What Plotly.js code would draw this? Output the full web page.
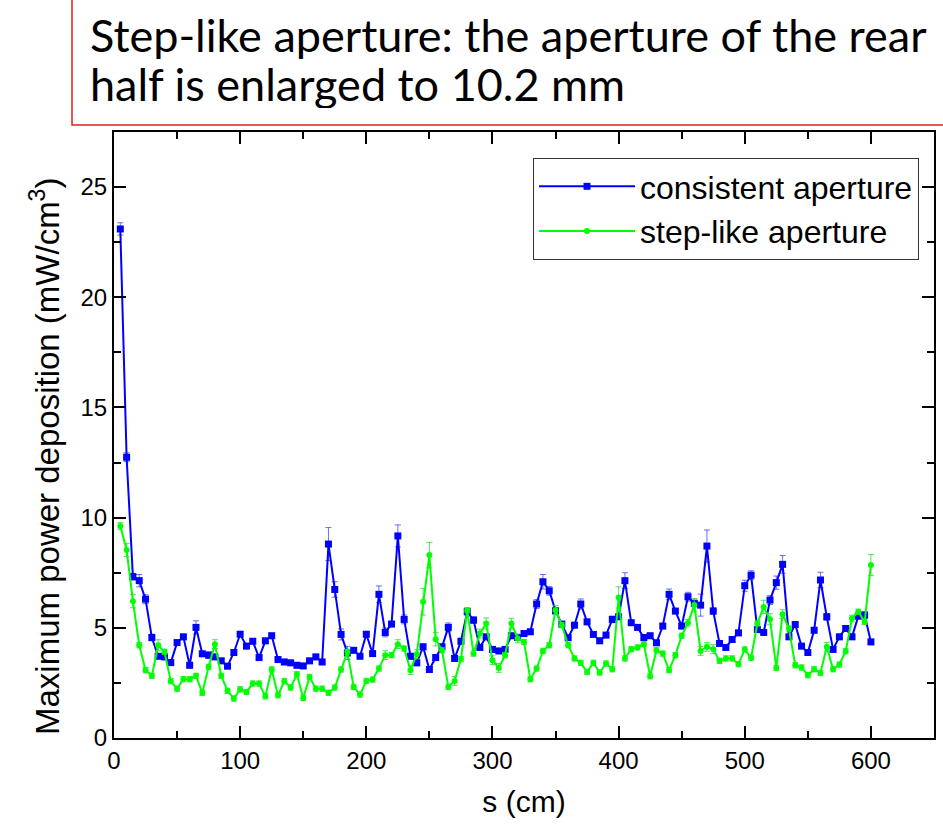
<!DOCTYPE html>
<html>
<head>
<meta charset="utf-8">
<script src="https://cdn.plot.ly/plotly-3.0.1.min.js"></script>
<style>
  html, body { margin: 0; padding: 0; background: #ffffff; }
  #chart { width: 943px; height: 832px; }
</style>
</head>
<body>
<div id="chart"></div>
<script>
// Position along the structure, cm
const s = [
  5, 10, 15, 20, 25, 30, 35, 40, 45, 50,
  55, 60, 65, 70, 75, 80, 85, 90, 95, 100,
  105, 110, 115, 120, 125, 130, 135, 140, 145, 150,
  155, 160, 165, 170, 175, 180, 185, 190, 195, 200,
  205, 210, 215, 220, 225, 230, 235, 240, 245, 250,
  255, 260, 265, 270, 275, 280, 285, 290, 295, 300,
  305, 310, 315, 320, 325, 330, 335, 340, 345, 350,
  355, 360, 365, 370, 375, 380, 385, 390, 395, 400,
  405, 410, 415, 420, 425, 430, 435, 440, 445, 450,
  455, 460, 465, 470, 475, 480, 485, 490, 495, 500,
  505, 510, 515, 520, 525, 530, 535, 540, 545, 550,
  555, 560, 565, 570, 575, 580, 585, 590, 595, 600
];

// Maximum power deposition, mW/cm^3 - consistent aperture
const consistent = [
  23.10, 12.74, 7.32, 7.14, 6.30, 4.56, 3.71, 3.68, 3.42, 4.33,
  4.59, 3.30, 5.02, 3.82, 3.76, 3.68, 3.50, 3.26, 3.88, 4.71,
  4.17, 4.39, 3.65, 4.41, 4.64, 3.56, 3.45, 3.41, 3.30, 3.27,
  3.50, 3.68, 3.45, 8.80, 6.74, 4.70, 3.86, 3.98, 3.71, 4.71,
  3.83, 6.52, 4.79, 5.17, 9.17, 5.38, 3.71, 3.41, 4.14, 3.11,
  3.65, 4.14, 5.02, 3.61, 4.39, 5.73, 5.35, 4.11, 4.59, 4.02,
  3.95, 4.02, 4.64, 4.56, 4.74, 4.82, 6.08, 7.09, 6.68, 5.77,
  5.17, 4.55, 5.12, 6.08, 5.27, 4.70, 4.41, 4.67, 5.38, 5.50,
  7.14, 5.23, 5.02, 4.56, 4.64, 4.32, 5.08, 6.52, 5.76, 5.08,
  6.41, 6.11, 6.03, 8.71, 5.76, 4.29, 4.11, 4.47, 4.77, 6.91,
  7.39, 4.92, 4.79, 6.26, 7.05, 7.88, 4.59, 5.15, 4.17, 3.88,
  4.89, 7.17, 5.50, 4.02, 4.59, 4.97, 4.59, 5.53, 5.58, 4.36
];
const consistentErr = [
  0.28, 0.20, 0.15, 0.28, 0.20, 0.15, 0.12, 0.12, 0.12, 0.12,
  0.12, 0.12, 0.30, 0.12, 0.15, 0.12, 0.12, 0.12, 0.12, 0.12,
  0.12, 0.12, 0.12, 0.12, 0.12, 0.12, 0.12, 0.12, 0.12, 0.12,
  0.12, 0.12, 0.12, 0.75, 0.35, 0.25, 0.30, 0.12, 0.12, 0.12,
  0.12, 0.38, 0.20, 0.12, 0.50, 0.20, 0.12, 0.12, 0.12, 0.12,
  0.12, 0.12, 0.20, 0.12, 0.12, 0.15, 0.15, 0.12, 0.12, 0.12,
  0.12, 0.12, 0.12, 0.12, 0.12, 0.12, 0.20, 0.33, 0.20, 0.12,
  0.12, 0.12, 0.12, 0.23, 0.12, 0.12, 0.12, 0.12, 0.15, 0.12,
  0.36, 0.12, 0.12, 0.12, 0.12, 0.12, 0.12, 0.24, 0.12, 0.12,
  0.20, 0.15, 0.50, 0.73, 0.15, 0.12, 0.12, 0.12, 0.12, 0.25,
  0.20, 0.12, 0.12, 0.20, 0.30, 0.40, 0.12, 0.12, 0.12, 0.12,
  0.12, 0.35, 0.15, 0.12, 0.12, 0.12, 0.12, 0.12, 0.15, 0.12
];

// Maximum power deposition, mW/cm^3 - step-like aperture
const stepLike = [
  9.62, 8.53, 6.21, 4.21, 3.08, 2.82, 4.21, 3.91, 2.58, 2.24,
  2.67, 2.67, 2.82, 2.05, 3.23, 4.26, 2.82, 2.14, 1.79, 2.21,
  2.09, 2.47, 2.47, 1.89, 3.11, 1.94, 2.58, 2.29, 2.89, 1.82,
  2.77, 2.24, 2.24, 2.05, 2.29, 3.11, 3.91, 2.32, 1.97, 2.59,
  2.65, 3.15, 3.76, 3.76, 4.26, 4.06, 3.08, 3.80, 6.18, 8.30,
  4.48, 3.98, 2.32, 2.59, 3.58, 5.80, 3.83, 4.74, 5.20, 3.53,
  3.18, 3.76, 5.20, 4.52, 4.36, 2.67, 3.15, 3.95, 4.21, 5.80,
  5.12, 4.21, 3.61, 3.41, 3.00, 3.41, 2.97, 3.38, 3.12, 6.38,
  3.61, 4.03, 4.11, 4.26, 2.80, 3.98, 3.83, 3.08, 3.76, 4.64,
  5.23, 6.03, 3.95, 4.14, 4.03, 3.50, 3.61, 3.61, 3.35, 4.02,
  3.64, 5.20, 5.95, 5.39, 3.18, 5.62, 4.97, 3.30, 3.20, 2.85,
  3.12, 2.95, 4.14, 3.12, 3.33, 3.94, 5.42, 5.73, 5.27, 7.85
];
const stepLikeErr = [
  0.15, 0.30, 0.30, 0.12, 0.12, 0.12, 0.25, 0.12, 0.12, 0.12,
  0.12, 0.12, 0.12, 0.12, 0.12, 0.20, 0.12, 0.12, 0.12, 0.12,
  0.12, 0.12, 0.12, 0.12, 0.12, 0.12, 0.12, 0.12, 0.12, 0.12,
  0.12, 0.12, 0.12, 0.12, 0.12, 0.12, 0.12, 0.12, 0.12, 0.12,
  0.12, 0.12, 0.20, 0.12, 0.20, 0.12, 0.20, 0.20, 0.60, 0.58,
  0.30, 0.12, 0.12, 0.20, 0.12, 0.12, 0.12, 0.20, 0.25, 0.20,
  0.20, 0.12, 0.23, 0.20, 0.12, 0.12, 0.12, 0.12, 0.12, 0.20,
  0.12, 0.12, 0.12, 0.12, 0.12, 0.12, 0.12, 0.12, 0.12, 0.48,
  0.12, 0.12, 0.12, 0.12, 0.12, 0.12, 0.12, 0.12, 0.12, 0.12,
  0.15, 0.30, 0.20, 0.20, 0.20, 0.12, 0.12, 0.12, 0.12, 0.12,
  0.12, 0.12, 0.30, 0.25, 0.12, 0.20, 0.12, 0.12, 0.12, 0.12,
  0.12, 0.12, 0.20, 0.12, 0.12, 0.12, 0.15, 0.12, 0.12, 0.48
];

const seriesNames = ['consistent aperture', 'step-like aperture'];
const headingLines = [
  'Step-like aperture: the aperture of the rear',
  'half is enlarged to 10.2 mm'
];

const FONT = '"Liberation Sans", Arial, sans-serif';
const HEAD_FONT = 'Lato, "Open Sans", sans-serif';
const BLUE = '#0000ff';
const GREEN = '#00ff00';

// plot-area geometry in pixels, used to place the heading and its frame
const PLOT_L = 114, PLOT_W = 820, PLOT_B = 738, PLOT_H = 606;
const px2x = px => (px - PLOT_L) / PLOT_W;
const px2y = py => (PLOT_B - py) / PLOT_H;

const traces = [
  {
    x: s, y: consistent, name: seriesNames[0],
    type: 'scatter', mode: 'lines+markers',
    line: { color: BLUE, width: 2 },
    marker: { color: BLUE, symbol: 'square', size: 7 },
    error_y: { type: 'data', array: consistentErr, visible: true,
               color: 'rgba(60,60,255,0.75)', thickness: 1, width: 3 }
  },
  {
    x: s, y: stepLike, name: seriesNames[1],
    type: 'scatter', mode: 'lines+markers',
    line: { color: GREEN, width: 2 },
    marker: { color: GREEN, symbol: 'circle', size: 6 },
    error_y: { type: 'data', array: stepLikeErr, visible: true,
               color: 'rgba(40,220,40,0.8)', thickness: 1, width: 3 }
  }
];

const axisCommon = {
  showline: true, linecolor: '#000', linewidth: 2,
  mirror: 'ticks', ticks: 'inside', ticklen: 12, tickwidth: 2, tickcolor: '#000',
  showgrid: false, zeroline: false,
  tickfont: { family: FONT, size: 24, color: '#000' }
};

// the two heading lines sit in fixed-height boxes so they stack tightly
const headingLine = (text, cy) => ({
  text: text,
  xref: 'paper', yref: 'paper', x: px2x(88), y: px2y(cy),
  xanchor: 'left', yanchor: 'middle', height: 48, valign: 'middle',
  showarrow: false,
  font: { family: HEAD_FONT, size: 45, color: '#000' }
});

const layout = {
  width: 943, height: 832,
  margin: { l: 114, r: 9, t: 132, b: 94 },
  paper_bgcolor: '#fff', plot_bgcolor: '#fff',
  showlegend: true,
  xaxis: Object.assign({}, axisCommon, {
    range: [0, 650], dtick: 100, tick0: 0,
    minor: { dtick: 50, ticks: 'inside', ticklen: 7, tickwidth: 2, tickcolor: '#000' },
    title: { text: 's (cm)', standoff: 18, font: { family: FONT, size: 30, color: '#000' } }
  }),
  yaxis: Object.assign({}, axisCommon, {
    range: [0, 27.5], dtick: 5, tick0: 0,
    minor: { dtick: 2.5, ticks: 'inside', ticklen: 7, tickwidth: 2, tickcolor: '#000' }
  }),
  legend: {
    x: px2x(919), xanchor: 'right', y: px2y(158), yanchor: 'top',
    bgcolor: '#fff', bordercolor: '#333', borderwidth: 1,
    font: { family: FONT, size: 32, color: '#000' },
    itemwidth: 96, tracegroupgap: 0
  },
  annotations: [
    {
      text: 'Maximum power deposition (mW/cm<sup>3</sup>)',
      xref: 'paper', yref: 'paper', x: px2x(45), y: px2y(457),
      xanchor: 'center', yanchor: 'middle', textangle: -90, showarrow: false,
      font: { family: FONT, size: 33, color: '#000' }
    },
    headingLine(headingLines[0], 35),
    headingLine(headingLines[1], 84)
  ],
  shapes: [
    {
      type: 'rect', xref: 'paper', yref: 'paper',
      x0: px2x(72), x1: 1.05, y0: px2y(125), y1: 1.3,
      line: { color: '#e02020', width: 1.5 }, fillcolor: 'rgba(0,0,0,0)'
    }
  ]
};

Plotly.newPlot('chart', traces, layout, { displayModeBar: false, staticPlot: true });
</script>
</body>
</html>
